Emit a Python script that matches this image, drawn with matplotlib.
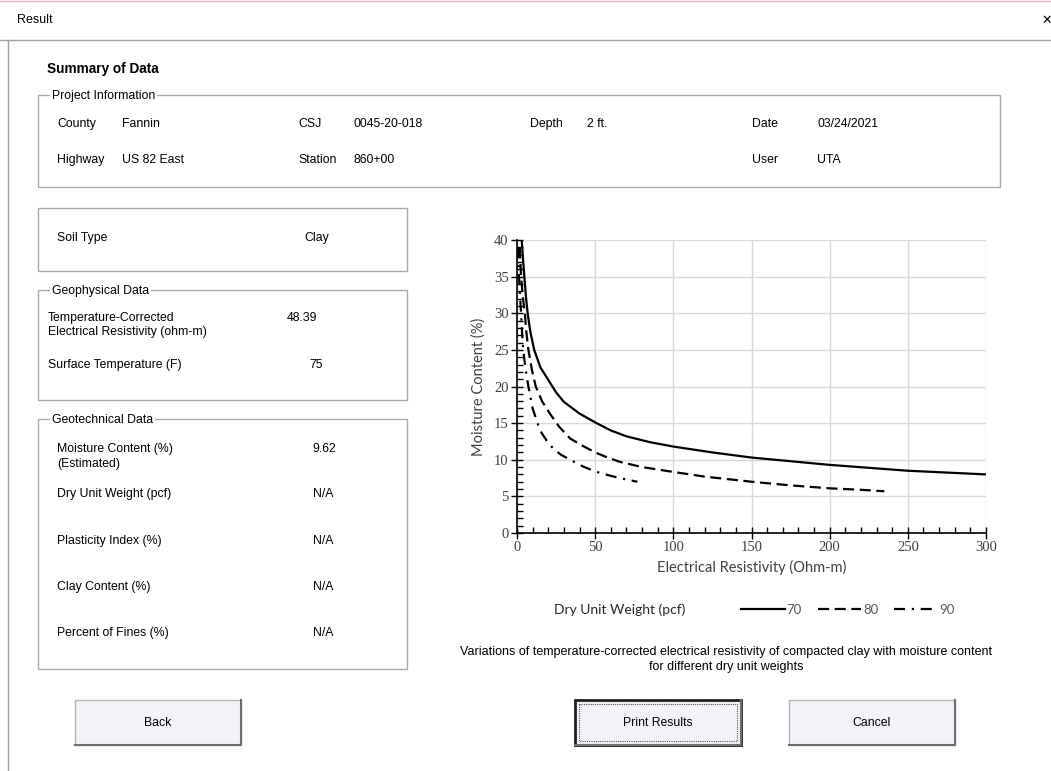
import matplotlib.pyplot as plt
from matplotlib.patches import Rectangle
from matplotlib.ticker import MultipleLocator

# curve data: resistivity (ohm-m) vs moisture content (%)
res_70 = [3, 4, 4.7, 5.7, 6.8, 8.5, 11, 15, 20, 25, 30, 40, 50, 60, 70, 85, 100, 125, 150, 175, 200, 225, 250, 275, 300]
mc_70 = [40, 37, 35, 32.3, 30, 27.5, 25, 22.6, 20.9, 19.2, 17.9, 16.3, 15.1, 14.0, 13.2, 12.4, 11.8, 11.0, 10.3, 9.8, 9.3, 8.9, 8.5, 8.25, 8.0]

res_80 = [1.8, 2.6, 3.7, 5, 6, 7.3, 9.5, 12, 16, 21, 27, 34, 42, 50, 58, 66, 80, 98, 120, 150, 175, 200, 220, 235]
mc_80 = [39, 35, 32.3, 30, 27.4, 25, 22.3, 20, 18, 16.3, 14.5, 12.9, 11.9, 11.0, 10.3, 9.7, 9.0, 8.4, 7.7, 7.0, 6.5, 6.1, 5.9, 5.7]

res_90 = [0.7, 1.3, 1.9, 2.6, 3.2, 4, 5.5, 7.3, 10, 14.7, 19, 23.3, 28, 34, 42, 50, 60, 70, 77]
mc_90 = [39, 35, 32.5, 30, 27.5, 25, 22.3, 20, 17, 14.0, 12.6, 11.5, 10.7, 10.0, 9.1, 8.4, 7.8, 7.3, 7.0]

weights = ['70', '80', '90']

W, H = 1051, 771
UI = 'Liberation Sans'
CH = 'Lato'

fig = plt.figure(figsize=(W / 100, H / 100), dpi=100)
bg = fig.add_axes([0, 0, 1, 1])
bg.set_xlim(0, W)
bg.set_ylim(H, 0)
bg.axis('off')

def txt(x, y, s, **kw):
    kw.setdefault('fontsize', 8.8)
    kw.setdefault('family', UI)
    kw.setdefault('va', 'center')
    bg.text(x, y, s, **kw)

def box(x0, y0, x1, y1, label=None):
    bg.add_patch(Rectangle((x0, y0), x1 - x0, y1 - y0, fill=False, ec='#a9a9a9', lw=1.0))
    if label:
        txt(x0 + 14, y0 + 1, label, bbox=dict(fc='white', ec='none', pad=1.5))

# window frame
bg.plot([0, W], [0.5, 0.5], color='#e8b4c0', lw=1)
bg.plot([0, W], [40, 40], color='#a0a0a0', lw=1)
bg.plot([8, 8], [40, H], color='#a0a0a0', lw=1)
txt(17, 20, 'Result', fontsize=9)
txt(1041, 20, '\u2715', fontsize=9, family='DejaVu Sans')

txt(47, 69, 'Summary of Data', fontsize=9.8, weight='bold')

# project information
box(38, 95, 1000, 187, 'Project Information')
row1 = [(57, 'County'), (122, 'Fannin'), (298, 'CSJ'), (353, '0045-20-018'),
        (530, 'Depth'), (587, '2 ft.'), (752, 'Date'), (817, '03/24/2021')]
row2 = [(57, 'Highway'), (122, 'US 82 East'), (298, 'Station'), (353, '860+00'),
        (752, 'User'), (817, 'UTA')]
for x, s in row1:
    txt(x, 124, s)
for x, s in row2:
    txt(x, 160, s)

# soil type
box(38, 208, 407, 271)
txt(57, 238, 'Soil Type')
txt(304, 238, 'Clay')

# geophysical
box(38, 290, 407, 400, 'Geophysical Data')
txt(48, 318, 'Temperature-Corrected')
txt(48, 332, 'Electrical Resistivity (ohm-m)')
txt(287, 318, '48.39')
txt(48, 365, 'Surface Temperature (F)')
txt(309, 365, '75')

# geotechnical
box(38, 419, 407, 669, 'Geotechnical Data')
txt(57, 449, 'Moisture Content (%)')
txt(57, 464, '(Estimated)')
txt(312, 449, '9.62')
for y, s in [(494, 'Dry Unit Weight (pcf)'), (541, 'Plasticity Index (%)'),
             (587, 'Clay Content (%)'), (633, 'Percent of Fines (%)')]:
    txt(57, y, s)
    txt(313, y, 'N/A')

# buttons
def button(x0, label, focus=False):
    y0, w, h = 700, 166, 45
    bg.add_patch(Rectangle((x0, y0), w, h, fc='#f1f3f8', ec='#b4b4b4', lw=1))
    bg.plot([x0 + w, x0 + w, x0], [y0, y0 + h, y0 + h], color='#6e6e6e', lw=1.5)
    if focus:
        bg.add_patch(Rectangle((x0, y0), w, h, fill=False, ec='#202020', lw=2))
        bg.add_patch(Rectangle((x0 + 4, y0 + 4), w - 8, h - 8, fill=False, ec='#555555', lw=0.8, ls=(0, (1, 1))))
    txt(x0 + w / 2, y0 + h / 2, label, ha='center')

button(75, 'Back')
button(575, 'Print Results', focus=True)
button(789, 'Cancel')

# chart
ax = fig.add_axes([517 / W, 1 - 533 / H, 469 / W, 293 / H])
styles = ['-', (0, (5, 2.5)), (0, (5, 3, 1, 3))]
lines = []
for xs, ys, ls, lab in zip([res_70, res_80, res_90], [mc_70, mc_80, mc_90], styles, weights):
    ln, = ax.plot(xs, ys, color='black', lw=1.6, ls=ls, label=lab)
    lines.append(ln)

ax.set_xlim(0, 300)
ax.set_ylim(0, 40)
ax.xaxis.set_major_locator(MultipleLocator(50))
ax.xaxis.set_minor_locator(MultipleLocator(10))
ax.yaxis.set_major_locator(MultipleLocator(5))
ax.yaxis.set_minor_locator(MultipleLocator(1))
ax.grid(True, which='major', color='#d9d9d9', lw=1)
ax.set_axisbelow(True)
for s in ['top', 'right']:
    ax.spines[s].set_visible(False)
for s in ['left', 'bottom']:
    ax.spines[s].set_color('black')
    ax.spines[s].set_linewidth(1.2)
ax.tick_params(which='major', direction='inout', length=8, width=1, labelsize=10.5,
               labelcolor='#404040', pad=2)
ax.tick_params(which='minor', direction='in', length=4, width=1)
for lab in ax.get_xticklabels() + ax.get_yticklabels():
    lab.set_family('Liberation Serif')
ax.set_xlabel('Electrical Resistivity (Ohm-m)', family=CH, fontsize=10.5, color='#404040', labelpad=4)
ax.set_ylabel('Moisture Content (%)', family=CH, fontsize=10.5, color='#404040', labelpad=6)

# legend row
txt(620, 610, 'Dry Unit Weight (pcf)', family=CH, fontsize=10, ha='center', color='#262626')
fig.legend(handles=lines, labels=weights, loc='center left', bbox_to_anchor=(741 / W, 1 - 610 / H),
           ncol=3, frameon=False, handlelength=3.3, handletextpad=0.15, columnspacing=1.2,
           prop=dict(family=CH, size=9.5), labelcolor='#595959', borderaxespad=0, borderpad=0)

txt(726, 652, 'Variations of temperature-corrected electrical resistivity of compacted clay with moisture content',
    ha='center', fontsize=9)
txt(726, 667, 'for different dry unit weights', ha='center', fontsize=9)

fig.savefig('out.png', dpi=100)
